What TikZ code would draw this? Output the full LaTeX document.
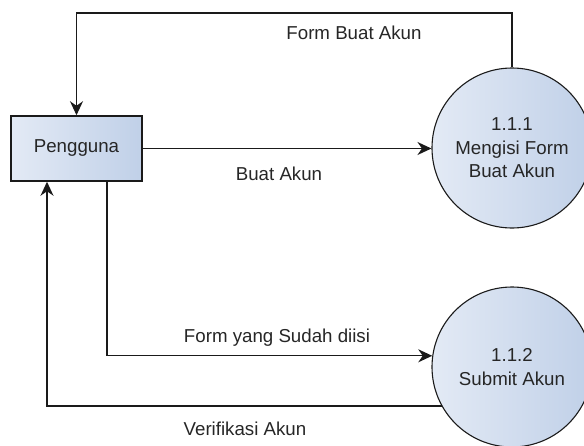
\documentclass[tikz,border=0pt]{standalone}
\usepackage{fontspec}
\setmainfont{Liberation Sans}
\usetikzlibrary{arrows.meta,calc}
\definecolor{inkline}{HTML}{1A1A1A}
\definecolor{inktext}{HTML}{262626}
\definecolor{fillA}{HTML}{E3EAF5}
\definecolor{fillB}{HTML}{C0D0E8}
\tikzset{
  entity/.style={draw=inkline, line width=1.5pt, left color=fillA, right color=fillB,
    minimum width=131pt, minimum height=65pt, inner sep=0pt, text=inktext},
  process/.style={circle, draw=inkline, line width=1.1pt, left color=fillA, right color=fillB,
    minimum size=160pt, inner sep=0pt, align=center, text=inktext},
  flow/.style={draw=inkline, line width=1.3pt, -{Stealth[length=14pt,width=13pt,inset=4.5pt]}},
  flowlabel/.style={text=inktext, inner sep=0pt}
}
\begin{document}
\begin{tikzpicture}[x=1pt, y=-1pt, font=\fontsize{18.7}{23.5}\selectfont]
  \useasboundingbox (0,0) rectangle (584,445);
  \clip (0,0) rectangle (584,445);

  % external entity and processes
  \node[entity] (user) at (76.5,148.5) {Pengguna};
  \node[process] (p1) at (512,148) {1.1.1\\Mengisi Form\\Buat Akun};
  \node[process] (p2) at (512,367) {1.1.2\\Submit Akun};

  % routing helpers
  \coordinate (topy) at (0,13);

  % data flows
  \draw[flow] (p1.north) -- (p1.north |- topy) -| (user.north);
  \draw[flow] (user.east) -- (user.east -| p1.west);
  \draw[flow] ([xshift=30.5pt]user.south) |- (p2.172.8);
  \draw[flow] (p2.209.2) -| ([xshift=-29.5pt]user.south);

  % flow labels
  \node[flowlabel] (lFormBuat) at (354,33) {Form Buat Akun};
  \node[flowlabel] (lBuat) at (279,174) {Buat Akun};
  \node[flowlabel] (lSudah) at (277,338) {Form yang Sudah diisi};
  \node[flowlabel] (lVerif) at (245,429) {Verifikasi Akun};
\end{tikzpicture}
\end{document}
